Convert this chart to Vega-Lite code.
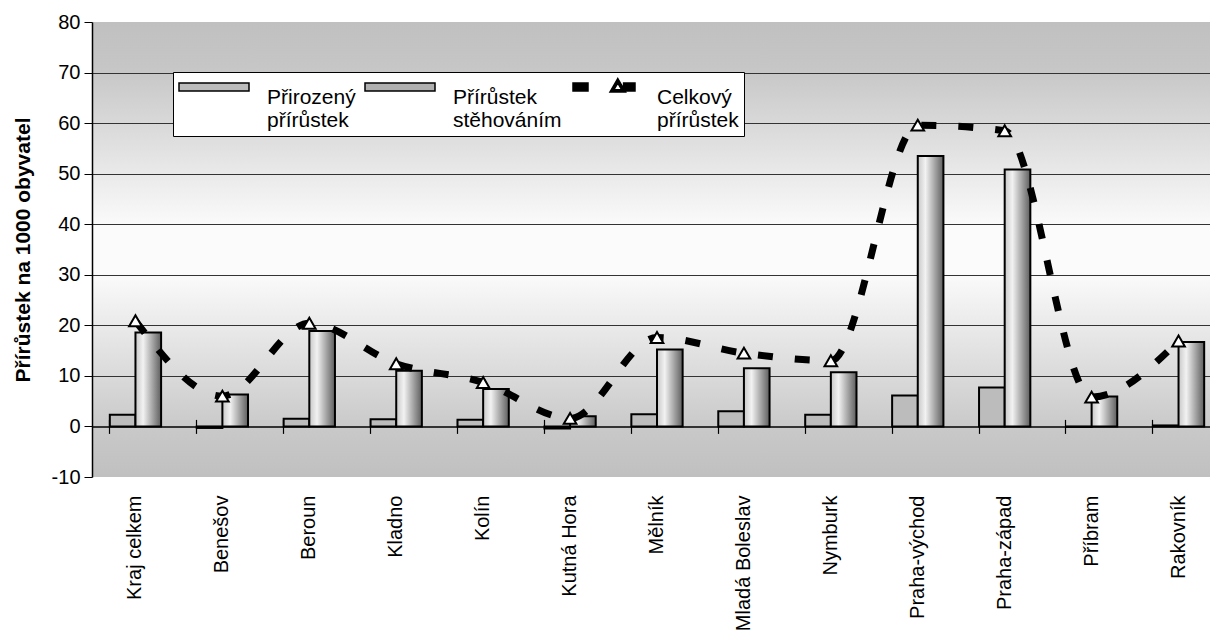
{
  "$schema": "https://vega.github.io/schema/vega-lite/v6.json",
  "width": 1130,
  "height": 455,
  "autosize": "none",
  "padding": {"left": 92, "top": 22, "right": 0, "bottom": 159},
  "background": "white",
  "config": {
    "font": "Liberation Sans",
    "view": {
      "stroke": null,
      "fill": {
        "gradient": "linear", "x1": 0, "y1": 0, "x2": 0, "y2": 1,
        "stops": [
          {"offset": 0, "color": "#c0c0c0"},
          {"offset": 0.1, "color": "#c6c6c6"},
          {"offset": 0.45, "color": "#fbfbfb"},
          {"offset": 0.55, "color": "#fbfbfb"},
          {"offset": 0.9, "color": "#c8c8c8"},
          {"offset": 1, "color": "#c0c0c0"}
        ]
      }
    }
  },
  "data": {
    "values": [
      {"region": "Kraj celkem", "series": "Přirozený přírůstek", "value": 2.3},
      {"region": "Kraj celkem", "series": "Přírůstek stěhováním", "value": 18.6},
      {"region": "Kraj celkem", "series": "Celkový přírůstek", "value": 20.9},
      {"region": "Benešov", "series": "Přirozený přírůstek", "value": -0.3},
      {"region": "Benešov", "series": "Přírůstek stěhováním", "value": 6.3},
      {"region": "Benešov", "series": "Celkový přírůstek", "value": 6.0},
      {"region": "Beroun", "series": "Přirozený přírůstek", "value": 1.5},
      {"region": "Beroun", "series": "Přírůstek stěhováním", "value": 18.9},
      {"region": "Beroun", "series": "Celkový přírůstek", "value": 20.4},
      {"region": "Kladno", "series": "Přirozený přírůstek", "value": 1.4},
      {"region": "Kladno", "series": "Přírůstek stěhováním", "value": 11.0},
      {"region": "Kladno", "series": "Celkový přírůstek", "value": 12.4},
      {"region": "Kolín", "series": "Přirozený přírůstek", "value": 1.3},
      {"region": "Kolín", "series": "Přírůstek stěhováním", "value": 7.4},
      {"region": "Kolín", "series": "Celkový přírůstek", "value": 8.7},
      {"region": "Kutná Hora", "series": "Přirozený přírůstek", "value": -0.4},
      {"region": "Kutná Hora", "series": "Přírůstek stěhováním", "value": 2.0},
      {"region": "Kutná Hora", "series": "Celkový přírůstek", "value": 1.6},
      {"region": "Mělník", "series": "Přirozený přírůstek", "value": 2.4},
      {"region": "Mělník", "series": "Přírůstek stěhováním", "value": 15.2},
      {"region": "Mělník", "series": "Celkový přírůstek", "value": 17.6},
      {"region": "Mladá Boleslav", "series": "Přirozený přírůstek", "value": 3.0},
      {"region": "Mladá Boleslav", "series": "Přírůstek stěhováním", "value": 11.5},
      {"region": "Mladá Boleslav", "series": "Celkový přírůstek", "value": 14.5},
      {"region": "Nymburk", "series": "Přirozený přírůstek", "value": 2.3},
      {"region": "Nymburk", "series": "Přírůstek stěhováním", "value": 10.7},
      {"region": "Nymburk", "series": "Celkový přírůstek", "value": 13.0},
      {"region": "Praha-východ", "series": "Přirozený přírůstek", "value": 6.1},
      {"region": "Praha-východ", "series": "Přírůstek stěhováním", "value": 53.5},
      {"region": "Praha-východ", "series": "Celkový přírůstek", "value": 59.6},
      {"region": "Praha-západ", "series": "Přirozený přírůstek", "value": 7.7},
      {"region": "Praha-západ", "series": "Přírůstek stěhováním", "value": 50.8},
      {"region": "Praha-západ", "series": "Celkový přírůstek", "value": 58.5},
      {"region": "Příbram", "series": "Přirozený přírůstek", "value": -0.1},
      {"region": "Příbram", "series": "Přírůstek stěhováním", "value": 5.9},
      {"region": "Příbram", "series": "Celkový přírůstek", "value": 5.8},
      {"region": "Rakovník", "series": "Přirozený přírůstek", "value": 0.2},
      {"region": "Rakovník", "series": "Přírůstek stěhováním", "value": 16.7},
      {"region": "Rakovník", "series": "Celkový přírůstek", "value": 16.9}
    ]
  },
  "resolve": {"axis": {"x": "independent", "y": "independent"}},
  "layer": [
    {
      "transform": [{"filter": "datum.series !== 'Celkový přírůstek'"}],
      "mark": {"type": "bar", "stroke": "black", "strokeWidth": 2},
      "encoding": {
        "x": {
          "field": "region", "type": "nominal", "sort": null,
          "scale": {"paddingInner": 0.41, "paddingOuter": 0.205},
          "axis": {
            "orient": "bottom", "title": null, "domain": false, "ticks": false, "grid": false,
            "labelAngle": -90, "labelPadding": 18, "labelFontSize": 20, "labelColor": "black",
            "labelFont": "Liberation Sans", "labelLimit": 300
          }
        },
        "xOffset": {
          "field": "series", "type": "nominal",
          "scale": {"domain": ["Přirozený přírůstek", "Přírůstek stěhováním"], "paddingInner": 0, "paddingOuter": 0}
        },
        "y": {
          "field": "value", "type": "quantitative",
          "scale": {"domain": [-10, 80], "nice": false, "zero": false},
          "axis": {
            "orient": "left",
            "title": "Přírůstek na 1000 obyvatel",
            "titleFont": "Liberation Sans", "titleFontSize": 21, "titleFontWeight": "bold", "titleColor": "black",
            "titlePadding": 18,
            "values": [-10, 0, 10, 20, 30, 40, 50, 60, 70, 80],
            "labelExpr": "'' + datum.value",
            "labelFontSize": 20, "labelColor": "black", "labelPadding": 4,
            "tickSize": 8, "tickColor": "black", "domainColor": "black", "domainWidth": 1.5,
            "grid": false
          }
        },
        "fill": {
          "condition": {
            "test": "datum.series === 'Přírůstek stěhováním'",
            "value": {"gradient": "linear", "x1": 0, "y1": 0, "x2": 1, "y2": 0,
               "stops": [{"offset": 0, "color": "#c8c8c8"}, {"offset": 0.3, "color": "#f2f2f2"}, {"offset": 1, "color": "#5e5e5e"}]}
          },
          "field": "series", "type": "nominal",
          "scale": {
            "domain": ["Přirozený přírůstek", "Přírůstek stěhováním", "Celkový přírůstek"],
            "range": ["#bcbcbc", "#b0b0b0", "black"]
          },
          "legend": {
            "title": null, "orient": "none", "legendX": 81, "legendY": 50,
            "direction": "horizontal", "columns": 3,
            "fillColor": "white", "strokeColor": "black", "padding": 5,
            "symbolSize": 1600, "symbolOffset": 15, "symbolStrokeColor": "black", "symbolStrokeWidth": 1.5,
            "labelFont": "Liberation Sans", "labelFontSize": 21, "labelColor": "black",
            "labelExpr": "split(datum.label, ' ')", "labelOffset": 32, "labelLimit": 300,
            "columnPadding": 6,
            "encode": {
              "symbols": {
                "update": {
                  "shape": {"signal": "datum.value === 'Celkový přírůstek' ? 'M-1.55,-0.75H-0.8V-0.35H-1.55Z M0.69,-0.97L1.08,-0.3L0.3,-0.3Z M0.69,-0.74L0.49,-0.41L0.89,-0.41Z M0.98,-0.75H1.55V-0.35H0.98Z' : 'M-1.75,-0.75H1.75V-0.35H-1.75Z'"},
                  "stroke": {"value": "black"},
                  "strokeWidth": {"value": 1.5}
                }
              }
            }
          }
        }
      }
    },
    {
      "transform": [{"filter": "datum.series === 'Celkový přírůstek'"}],
      "mark": {"type": "line", "interpolate": "monotone", "stroke": "black", "strokeWidth": 7, "strokeDash": [15, 22], "strokeCap": "butt"},
      "encoding": {
        "x": {
          "field": "region", "type": "nominal", "sort": null,
          "axis": {
            "orient": "bottom", "offset": -50.6, "title": null, "labels": false, "grid": false,
            "ticks": true, "tickSize": 7, "tickColor": "black", "tickWidth": 1.2, "bandPosition": 0,
            "domainColor": "black", "domainWidth": 1.5
          }
        },
        "y": {
          "field": "value", "type": "quantitative",
          "axis": {
            "orient": "left", "values": [10, 20, 30, 40, 50, 60, 70], "grid": true, "gridColor": "#333333", "gridWidth": 1.2,
            "labels": false, "ticks": false, "domain": false, "title": null
          }
        }
      }
    },
    {
      "transform": [{"filter": "datum.series === 'Celkový přírůstek'"}],
      "mark": {"type": "point", "shape": "triangle-up", "filled": true, "fill": "white", "stroke": "black", "strokeWidth": 2, "size": 160, "opacity": 1},
      "encoding": {
        "x": {
          "field": "region", "type": "nominal", "sort": null,
          "axis": {
            "orient": "top", "offset": -404.4, "title": null, "labels": false, "grid": false, "domain": false,
            "ticks": true, "tickSize": 7, "tickColor": "black", "tickWidth": 1.2, "bandPosition": 0
          }
        },
        "y": {"field": "value", "type": "quantitative", "axis": null}
      }
    }
  ]
}
